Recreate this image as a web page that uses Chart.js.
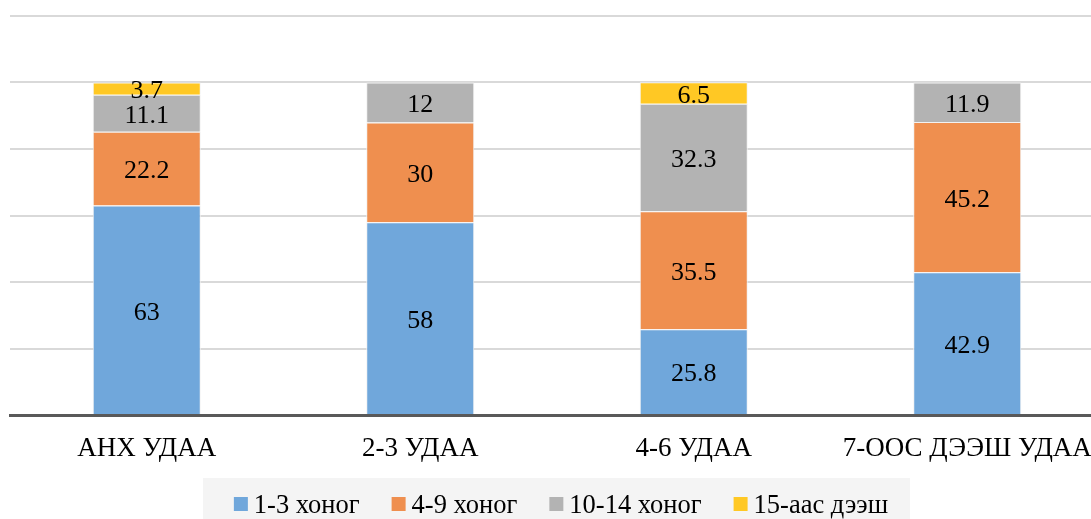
<!DOCTYPE html>
<html>
<head>
<meta charset="utf-8">
<script src="https://cdn.jsdelivr.net/npm/chart.js@4"></script>
<style>
  html, body { margin: 0; padding: 0; overflow: hidden; background: #fff; }
  #wrap { width: 1110px; height: 519px; }
</style>
</head>
<body>
<div id="wrap"><canvas id="barChart"></canvas></div>
<script>
const categories = ['АНХ УДАА', '2-3 УДАА', '4-6 УДАА', '7-ООС ДЭЭШ УДАА'];
const days1to3 = [63, 58, 25.8, 42.9];
const days4to9 = [22.2, 30, 35.5, 45.2];
const days10to14 = [11.1, 12, 32.3, 11.9];
const days15plus = [3.7, 0, 6.5, 0];

const FONT = '"Liberation Serif", "Times New Roman", serif';

// draws the value in the middle of every segment
const valueLabels = {
    id: 'valueLabels',
    afterDatasetsDraw(chart) {
        const ctx = chart.ctx;
        ctx.save();
        ctx.font = '26px ' + FONT;
        ctx.fillStyle = '#000';
        ctx.textAlign = 'center';
        ctx.textBaseline = 'middle';
        chart.data.datasets.forEach((ds, i) => {
            chart.getDatasetMeta(i).data.forEach((bar, j) => {
                const v = ds.data[j];
                if (!v) return;
                const mid = (bar.y + bar.base) / 2;
                ctx.fillText(String(v), bar.x, mid + 3);
            });
        });
        ctx.restore();
    }
};

// legend in a grey box, drawn by hand so the spacing matches
const boxLegend = {
    id: 'boxLegend',
    afterDraw(chart) {
        const ctx = chart.ctx;
        const sets = chart.data.datasets;
        ctx.save();
        ctx.fillStyle = '#f4f4f4';
        ctx.fillRect(203, 478, 707, chart.height - 478);
        ctx.font = '26.5px ' + FONT;
        const widths = sets.map(ds => ctx.measureText(ds.label).width);
        const box = 14, gap = 6, space = 32;
        const total = widths.reduce((a, w) => a + box + gap + w, 0) + space * (sets.length - 1);
        let x = 561 - total / 2;
        const y = 505;
        ctx.textBaseline = 'middle';
        ctx.textAlign = 'left';
        sets.forEach((ds, i) => {
            ctx.fillStyle = ds.backgroundColor;
            ctx.fillRect(x, y - box / 2 - 1, box, box);
            ctx.fillStyle = '#000';
            ctx.fillText(ds.label, x + box + gap, y + 1);
            x += box + gap + widths[i] + space;
        });
        ctx.restore();
    }
};

const ctx = document.getElementById('barChart').getContext('2d');
new Chart(ctx, {
    type: 'bar',
    data: {
        labels: categories,
        datasets: [
            { label: '1-3 хоног', data: days1to3, backgroundColor: '#70a7db' },
            { label: '4-9 хоног', data: days4to9, backgroundColor: '#ef8f4f' },
            { label: '10-14 хоног', data: days10to14, backgroundColor: '#b3b3b3' },
            { label: '15-аас дээш', data: days15plus, backgroundColor: '#ffc824' }
        ].map(d => Object.assign(d, {
            borderColor: '#f2f2f2',
            borderWidth: 1,
            barPercentage: 0.395,
            categoryPercentage: 1
        }))
    },
    options: {
        responsive: true,
        maintainAspectRatio: false,
        animation: false,
        layout: { padding: { left: 10, right: 6, top: 16, bottom: 0 } },
        scales: {
            x: {
                stacked: true,
                grid: { display: false },
                border: { color: '#595959', width: 3 },
                ticks: { color: '#000', font: { family: FONT, size: 27 }, padding: 10 },
                afterFit(scale) { scale.height = 104; }
            },
            y: {
                stacked: true,
                min: 0,
                max: 120,
                ticks: { display: false, stepSize: 20 },
                grid: { color: '#d9d9d9', lineWidth: 2, drawTicks: false },
                border: { display: false }
            }
        },
        plugins: {
            tooltip: { enabled: false },
            legend: { display: false }
        }
    },
    plugins: [valueLabels, boxLegend]
});
</script>
</body>
</html>
